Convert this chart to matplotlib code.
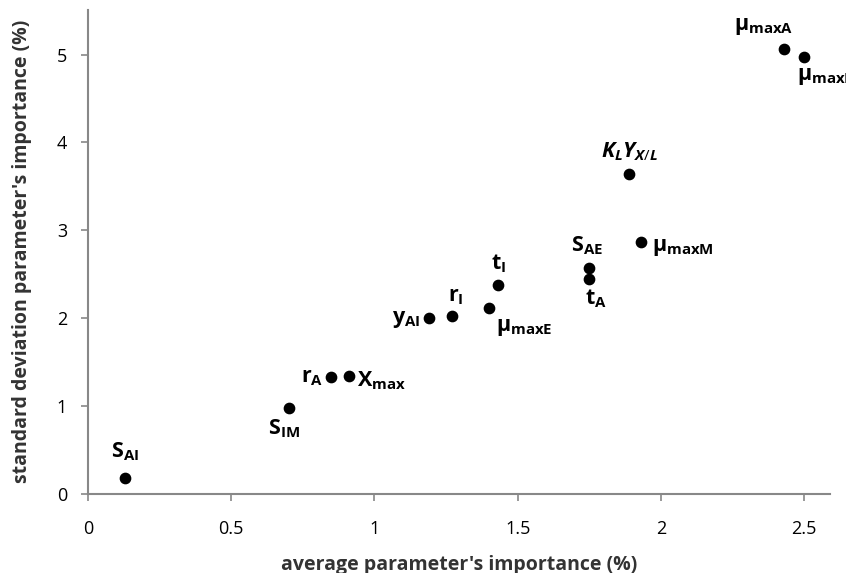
import numpy as np
import matplotlib.pyplot as plt
from matplotlib import font_manager

names = {f.name for f in font_manager.fontManager.ttflist}
fam = "Liberation Sans Narrow" if "Liberation Sans Narrow" in names else "Open Sans"

plt.rcParams['font.family'] = fam
plt.rcParams['mathtext.fontset'] = 'custom'
plt.rcParams['mathtext.rm'] = fam
plt.rcParams['mathtext.bf'] = fam + ':bold'
plt.rcParams['mathtext.it'] = fam + ':bold:italic'

# Data
labels = [r"$\mathbf{S_{AI}}$", r"$\mathbf{S_{IM}}$", r"$\mathbf{r_{A}}$", r"$\mathbf{X_{max}}$",
          r"$\mathbf{y_{AI}}$", r"$\mathbf{r_{I}}$", r"$\mathbf{μ_{maxE}}$", r"$\mathbf{t_{I}}$",
          r"$\mathbf{S_{AE}}$", r"$\mathbf{t_{A}}$", r"$K_L Y_{X/L}$", r"$\mathbf{μ_{maxM}}$",
          r"$\mathbf{μ_{maxA}}$", r"$\mathbf{μ_{maxI}}$"]
avg_imp = [0.13, 0.70, 0.85, 0.91, 1.19, 1.27, 1.40, 1.43, 1.75, 1.75, 1.89, 1.93, 2.43, 2.50]
std_imp = [0.18, 0.98, 1.33, 1.34, 2.00, 2.03, 2.12, 2.38, 2.57, 2.45, 3.64, 2.87, 5.06, 4.97]

# label offsets (points) and alignment
offs = [(0, 11, 'center', 'bottom'), (-3, -7, 'center', 'top'), (-6, 0, 'right', 'center'),
        (6, -3, 'left', 'center'), (-6, -1, 'right', 'center'), (3, 6, 'center', 'bottom'),
        (5, -7, 'left', 'top'), (1, 7, 'center', 'bottom'), (-2, 8, 'center', 'bottom'),
        (5, -6, 'center', 'top'), (0, 8, 'center', 'bottom'), (8, -4, 'left', 'center'),
        (-15, 9, 'center', 'bottom'), (-5, -6, 'left', 'top')]

fig = plt.figure(figsize=(8.46, 5.73), dpi=100)
ax = fig.add_axes([0.104, 0.138, 0.877, 0.845])
ax.scatter(avg_imp, std_imp, s=55, color='black', zorder=3)

for lab, x, y, (dx, dy, ha, va) in zip(labels, avg_imp, std_imp, offs):
    ax.annotate(lab, (x, y), xytext=(dx, dy), textcoords='offset points',
                ha=ha, va=va, fontsize=15.5, fontweight='bold', annotation_clip=False)

ax.set_xlim(0, 2.59)
ax.set_ylim(0, 5.51)
ax.set_xticks([0, 0.5, 1, 1.5, 2, 2.5])
ax.set_xticklabels(["0", "0.5", "1", "1.5", "2", "2.5"])
ax.set_yticks([0, 1, 2, 3, 4, 5])
for s in ['top', 'right']:
    ax.spines[s].set_visible(False)
for s in ['left', 'bottom']:
    ax.spines[s].set_color('#888888')
    ax.spines[s].set_linewidth(1.5)
ax.tick_params(colors='#888888', labelcolor='black', labelsize=13, length=5, width=1.2)
ax.tick_params(axis='x', pad=14)
ax.tick_params(axis='y', pad=10)
ax.set_xlabel("average parameter's importance (%)", fontsize=14, fontweight='bold', color='#333333', labelpad=12)
ax.set_ylabel("standard deviation parameter's importance (%)", fontsize=14, fontweight='bold', color='#333333', labelpad=18)

fig.savefig("out.png")
